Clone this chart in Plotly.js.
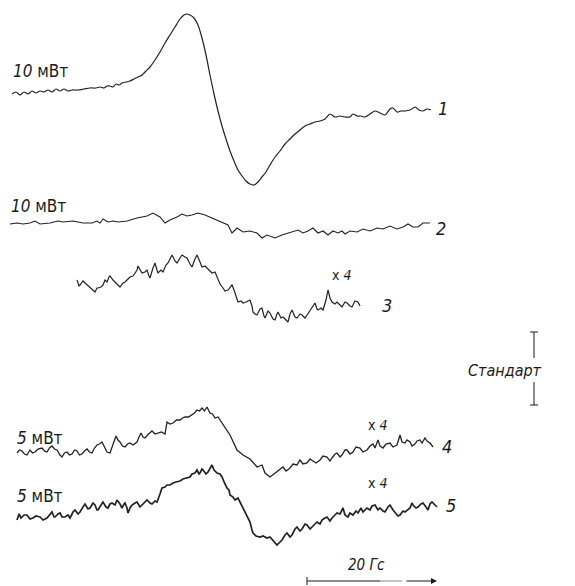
<!DOCTYPE html>
<html>
<head>
<meta charset="utf-8">
<script src="https://cdn.plot.ly/plotly-3.0.1.min.js"></script>
<style>
  html, body { margin: 0; padding: 0; background: #fff; }
  #chart { width: 575px; height: 586px; }
</style>
</head>
<body>
<div id="chart"></div>
<script>
// EPR derivative spectra, five records stacked on one sheet.
// Horizontal: magnetic field sweep (sheet units); vertical: pen position (sheet units, downward).

// Record 1 — 10 mW
const field1 = [12,16,20,24,28,32,36,40,44,48,52,56,60,64,68,72,78,84,90,96,100,104,107,110,113,116,119,122,126,130,134,138,142,146,150,155,160,165,170,175,180,184,187,190,194,198,202,206,210,214,218,222,226,230,234,238,242,246,250,254,258,262,266,270,275,280,285,290,295,300,305,310,315,320,325,330,335,340,345,350,353,357,361,365,370,375,380,385,390,393,397,401,405,410,415,419,423,427,431];
const signal1 = [94,92,95,92,94,91,93,91,92,90,92,89,91,89,91,90,90,89,88,88,87,88,86,86,87,84,85,83,82,81,79,77,75,71,67,60,52,43,35,27,19,15,14,15,18,25,38,55,75,94,111,126,139,151,161,170,176,181,184,185,182,177,172,165,157,151,144,139,134,130,126,124,122,121,119,114,117,116,117,117,114,116,116,117,114,111,113,115,109,108,112,111,111,110,107,110,111,109,110];

// Record 2 — 10 mW
const field2 = [10,17,23,30,35,40,50,58,63,73,83,92,97,100,103,108,113,118,127,137,147,153,160,165,170,177,182,187,192,198,205,210,217,223,228,232,237,243,250,257,262,267,275,282,288,293,298,303,308,313,318,323,328,333,338,342,345,350,357,363,370,377,383,390,397,403,408,413,418,423,430];
const signal2 = [224,223,224,223,221,224,223,221,222,221,223,223,221,223,219,222,221,222,221,218,216,213,217,223,220,217,214,216,215,213,215,217,220,223,225,233,228,232,231,233,238,235,238,235,233,232,230,233,231,228,233,231,235,231,233,231,234,231,232,229,231,228,229,226,229,227,224,227,227,223,223];

// Record 3 — amplified ×4
const field3 = [77,79,80,83,85,88,90,93,95,97,98,101,103,105,107,109,110,113,115,118,120,123,125,128,130,133,135,137,138,140,142,145,147,149,150,153,155,157,158,161,163,166,168,170,172,175,177,180,182,185,187,190,192,195,197,200,202,205,207,210,212,215,218,220,223,225,228,230,232,234,235,237,238,241,243,246,250,252,253,255,257,260,262,264,265,268,270,273,275,277,278,281,283,286,288,290,292,295,297,300,302,305,307,310,312,314,315,317,318,321,323,326,328,330,332,335,337,340,342,345,347,350,352,355,358,360];
const signal3 = [280,286,285,281,283,286,287,290,292,288,288,287,285,280,282,277,276,280,282,286,287,283,282,279,277,276,273,270,266,270,273,272,270,276,278,268,263,270,273,270,272,265,263,259,255,261,263,258,255,257,258,264,267,259,255,262,267,266,268,270,273,272,280,284,288,291,290,287,285,290,293,298,302,301,303,302,300,306,312,314,315,309,308,316,318,311,313,319,320,314,312,318,317,320,322,314,310,317,318,314,315,318,315,310,308,305,303,309,310,308,310,300,290,298,302,304,302,305,307,302,303,306,307,301,302,306];

// Record 4 — 5 mW, ×4
const field4 = [17,19.5,22,24.5,27,30,32.5,35,38,42,44.5,47,49.5,52,54.5,57,60,62,64.5,67,69.5,72,74.5,77,79.5,82,84.5,87,89.5,92,94.5,97,99.5,102,104.5,107,110,113,116,118,120,122.5,125,127.5,130,133,137,139,141,143,145,148.5,152,155,158,161.5,165,167,170,173,176.5,180,182.5,185,188.5,192,194.5,197,199.5,202,204.5,207,210,212.5,215,218,220.5,223,230,237,243,250,257,262,265,270,277,283,286,290,293,297,300,303,307,310,313,316,320,323,327,330,332,335,337,340,342,345,347,350,353,356,360,363,367,370,373,375,378,380,383,386,390,393,397,400,402,405,407,410,412,415,417,420,422,425,427,430,433];
const signal4 = [453,450,451,454,455,450,453,452,449,448,451,452,448,446,449,450,455,457,453,452,455,454,450,451,455,454,451,449,452,453,448,445,444,442,447,452,453,444,436,440,442,446,447,444,443,445,442,437,433,437,438,434,431,434,433,432,434,422,424,423,420,420,418,417,417,415,413,410,411,408,411,407,413,414,418,417,421,425,435,450,455,459,467,465,473,477,472,467,471,468,464,465,460,464,463,459,461,463,460,456,457,461,458,454,453,457,455,450,450,454,452,447,448,452,450,446,444,448,440,446,448,444,443,447,445,435,442,443,440,442,446,444,441,440,443,438,441,443,447];

// Record 5 — 5 mW, ×4
const field5 = [17,19,21,24,27,30,33,36,40,43,47,50,52,54,55,58,60,62,65,68,70,73,75,78,80,83,85,88,90,93,95,97,98,101,103,106,108,110,112,115,117,120,122,124,125,127,128,130,132,135,137,140,142,145,147,150,152,155,157,160,162,165,167,170,173,176,180,183,187,190,192,195,197,199,200,202,203,206,208,210,212,214,217,220,222,225,227,229,230,233,235,238,240,243,245,248,250,252,253,256,260,263,267,270,273,275,277,280,282,285,287,290,292,295,297,300,302,305,307,310,312,315,317,320,322,325,327,330,332,335,337,340,343,345,348,350,353,356,358,361,363,367,370,372,375,378,380,383,385,388,390,393,395,398,400,403,405,408,410,412,413,416,418,421,423,426,428,430,432,435,437];
const signal5 = [520,514,518,515,515,519,518,516,517,520,518,515,512,517,517,514,513,517,517,515,518,512,510,514,512,507,504,509,508,503,505,510,510,505,502,507,508,504,503,505,500,504,508,504,503,508,513,508,505,503,502,507,505,502,500,503,504,501,502,494,488,487,485,485,483,482,481,479,478,477,474,473,470,474,473,469,470,474,472,468,465,470,473,474,477,484,488,490,495,497,500,498,502,508,512,517,522,530,533,536,537,536,538,537,540,543,545,542,540,535,533,537,535,529,527,531,529,524,525,529,527,523,522,524,520,518,517,521,518,515,513,514,508,515,517,513,515,511,513,508,512,508,510,506,505,510,508,511,512,507,505,510,512,516,515,511,512,509,508,503,505,508,507,504,503,507,510,504,502,505,507];

const records = [
  {x: field1, y: signal1, w: 1.2, shape: 'spline'},
  {x: field2, y: signal2, w: 1.1, shape: 'linear'},
  {x: field3, y: signal3, w: 1.2, shape: 'linear'},
  {x: field4, y: signal4, w: 1.3, shape: 'linear'},
  {x: field5, y: signal5, w: 1.7, shape: 'linear'}
];

const traces = records.map(r => ({
  type: 'scatter',
  mode: 'lines',
  x: r.x,
  y: r.y,
  line: {color: '#222', width: r.w, shape: r.shape, smoothing: 0.8},
  hoverinfo: 'skip',
  showlegend: false
}));

const FONT = 'DejaVu Sans Condensed, Liberation Sans Narrow, DejaVu Sans, sans-serif';
const ink = '#1a1a1a';

function label(x, y, text, size, anchor) {
  return {
    x: x, y: y, xref: 'x', yref: 'y', text: text, showarrow: false,
    xanchor: anchor || 'left', yanchor: 'middle',
    font: {family: FONT, size: size, color: ink}
  };
}

const annotations = [
  label(11, 71, '<i>10</i> мВт', 17),
  label(9, 206, '<i>10</i> мВт', 17),
  label(15, 438, '<i>5</i> мВт', 17),
  label(15, 496, '<i>5</i> мВт', 17),
  label(443, 108, '<i>1</i>', 18, 'center'),
  label(441, 228, '<i>2</i>', 18, 'center'),
  label(387, 305, '<i>3</i>', 18, 'center'),
  label(447, 446, '<i>4</i>', 18, 'center'),
  label(451, 505, '<i>5</i>', 18, 'center'),
  label(341, 275, 'x <i>4</i>', 14, 'center'),
  label(377, 425, 'x <i>4</i>', 14, 'center'),
  label(377, 483, 'x <i>4</i>', 14, 'center'),
  label(505, 370, '<i>Стандарт</i>', 16, 'center'),
  label(366, 565, '<i>20 Гс</i>', 15, 'center'),
  {
    x: 437, y: 581, ax: 405, ay: 581, xref: 'x', yref: 'y', axref: 'x', ayref: 'y',
    text: '', showarrow: true, arrowhead: 2, arrowsize: 1.2, arrowwidth: 1, arrowcolor: ink
  }
];

const seg = (x0, y0, x1, y1, w, c) => ({
  type: 'line', xref: 'x', yref: 'y', x0: x0, y0: y0, x1: x1, y1: y1,
  line: {color: c || ink, width: w || 1}
});

const shapes = [
  // calibration standard bar
  seg(534, 332, 534, 358),
  seg(534, 382, 534, 405),
  seg(530, 332, 538, 332),
  seg(530, 405, 538, 405),
  // 20 G field scale
  seg(307, 577, 307, 585),
  seg(307, 581, 380, 581, 1.2),
  seg(380, 581, 402, 581, 1, '#888')
];

const layout = {
  width: 575,
  height: 586,
  margin: {l: 0, r: 0, t: 0, b: 0},
  paper_bgcolor: '#fff',
  plot_bgcolor: '#fff',
  xaxis: {range: [0, 575], visible: false, fixedrange: true},
  yaxis: {range: [586, 0], visible: false, fixedrange: true},
  annotations: annotations,
  shapes: shapes,
  showlegend: false
};

Plotly.newPlot('chart', traces, layout, {staticPlot: true, displayModeBar: false});
</script>
</body>
</html>
